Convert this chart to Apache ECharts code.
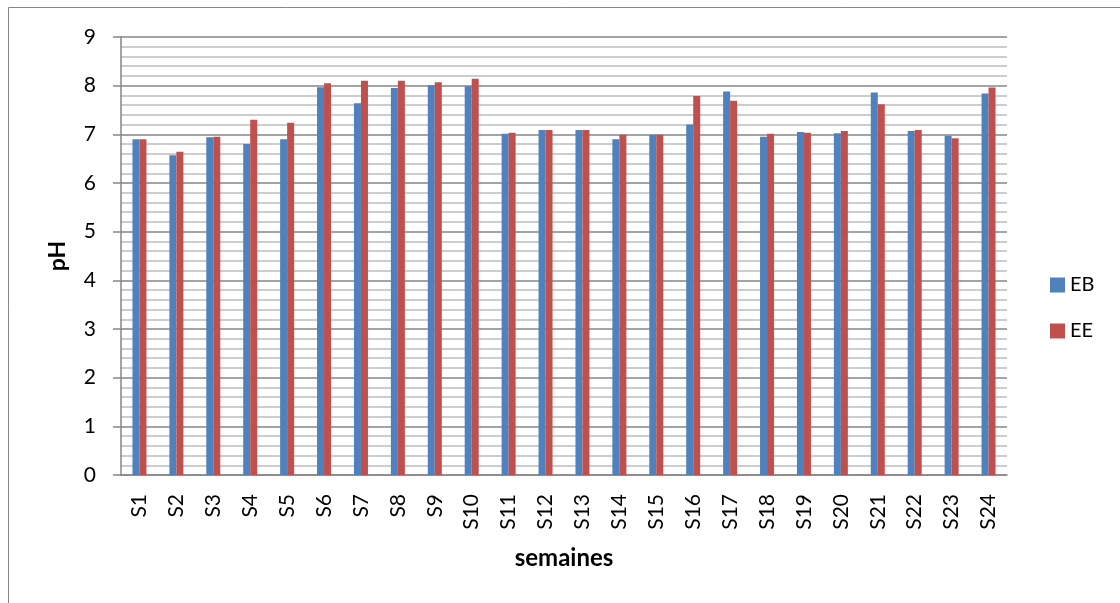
<!DOCTYPE html>
<html>
<head>
<meta charset="utf-8">
<script src="https://cdn.jsdelivr.net/npm/echarts@6/dist/echarts.min.js"></script>
<style>
  html, body { margin: 0; padding: 0; background: #ffffff; }
  #chart { width: 1120px; height: 603px; }
</style>
</head>
<body>
<div id="chart"></div>
<script>
// Weekly pH readings for the two sampling points
const weeks = ['S1','S2','S3','S4','S5','S6','S7','S8','S9','S10','S11','S12',
               'S13','S14','S15','S16','S17','S18','S19','S20','S21','S22','S23','S24'];
const phEB = [6.90, 6.57, 6.94, 6.80, 6.90, 7.97, 7.64, 7.95, 8.01, 7.99, 7.01, 7.09,
              7.09, 6.90, 6.99, 7.20, 7.88, 6.95, 7.05, 7.02, 7.86, 7.07, 6.97, 7.84];
const phEE = [6.90, 6.64, 6.95, 7.30, 7.24, 8.05, 8.10, 8.10, 8.07, 8.14, 7.03, 7.09,
              7.09, 6.99, 6.99, 7.79, 7.69, 7.01, 7.03, 7.07, 7.62, 7.09, 6.92, 7.96];
const seriesNames = ['EB', 'EE'];

const FONT = 'Lato, "Open Sans", sans-serif';
const AXIS_GREY = '#868686';

const chart = echarts.init(document.getElementById('chart'), null, { renderer: 'canvas' });

chart.setOption({
  animation: false,
  backgroundColor: '#ffffff',
  textStyle: { fontFamily: FONT },
  graphic: [{
    type: 'rect',
    shape: { x: 8.5, y: 7.5, width: 1300, height: 800 },
    style: { fill: 'none', stroke: AXIS_GREY, lineWidth: 1 },
    silent: true
  }],
  grid: { left: 121, right: 113, top: 37, bottom: 128, containLabel: false },
  legend: {
    orient: 'vertical',
    left: 1050,
    top: 275,
    padding: 0,
    icon: 'rect',
    itemWidth: 15,
    itemHeight: 15,
    itemGap: 26,
    data: seriesNames,
    textStyle: { fontFamily: FONT, fontSize: 20, color: '#000000' }
  },
  xAxis: {
    type: 'category',
    data: weeks,
    name: 'semaines',
    nameLocation: 'middle',
    nameGap: 71,
    nameTextStyle: { fontFamily: FONT, fontSize: 24, fontWeight: 'bold', color: '#000000' },
    axisLine: { show: true, lineStyle: { color: AXIS_GREY, width: 1.5 } },
    axisTick: { show: false },
    axisLabel: { rotate: 90, margin: 19, fontFamily: FONT, fontSize: 21, color: '#000000', interval: 0 },
    splitLine: { show: false }
  },
  yAxis: {
    type: 'value',
    min: 0,
    max: 9,
    interval: 1,
    name: 'pH',
    nameLocation: 'middle',
    nameGap: 52,
    nameRotate: 90,
    nameTextStyle: { fontFamily: FONT, fontSize: 23, fontWeight: 'bold', color: '#000000' },
    axisLine: { show: true, lineStyle: { color: AXIS_GREY, width: 1.5 } },
    axisTick: { show: true, inside: false, length: 8, lineStyle: { color: AXIS_GREY, width: 1.5 } },
    axisLabel: { margin: 25, fontFamily: FONT, fontSize: 21, color: '#000000' },
    splitLine: { show: true, lineStyle: { color: AXIS_GREY, width: 1.5 } },
    minorTick: { show: false, splitNumber: 5 },
    minorSplitLine: { show: true, lineStyle: { color: '#bdbdbd', width: 1.5 } }
  },
  series: [
    {
      name: seriesNames[0],
      type: 'bar',
      data: phEB,
      barWidth: 7,
      barGap: '0%',
      itemStyle: { color: '#4f81bd' }
    },
    {
      name: seriesNames[1],
      type: 'bar',
      data: phEE,
      barWidth: 7,
      barGap: '0%',
      itemStyle: { color: '#c0504d' }
    }
  ]
});
</script>
</body>
</html>
